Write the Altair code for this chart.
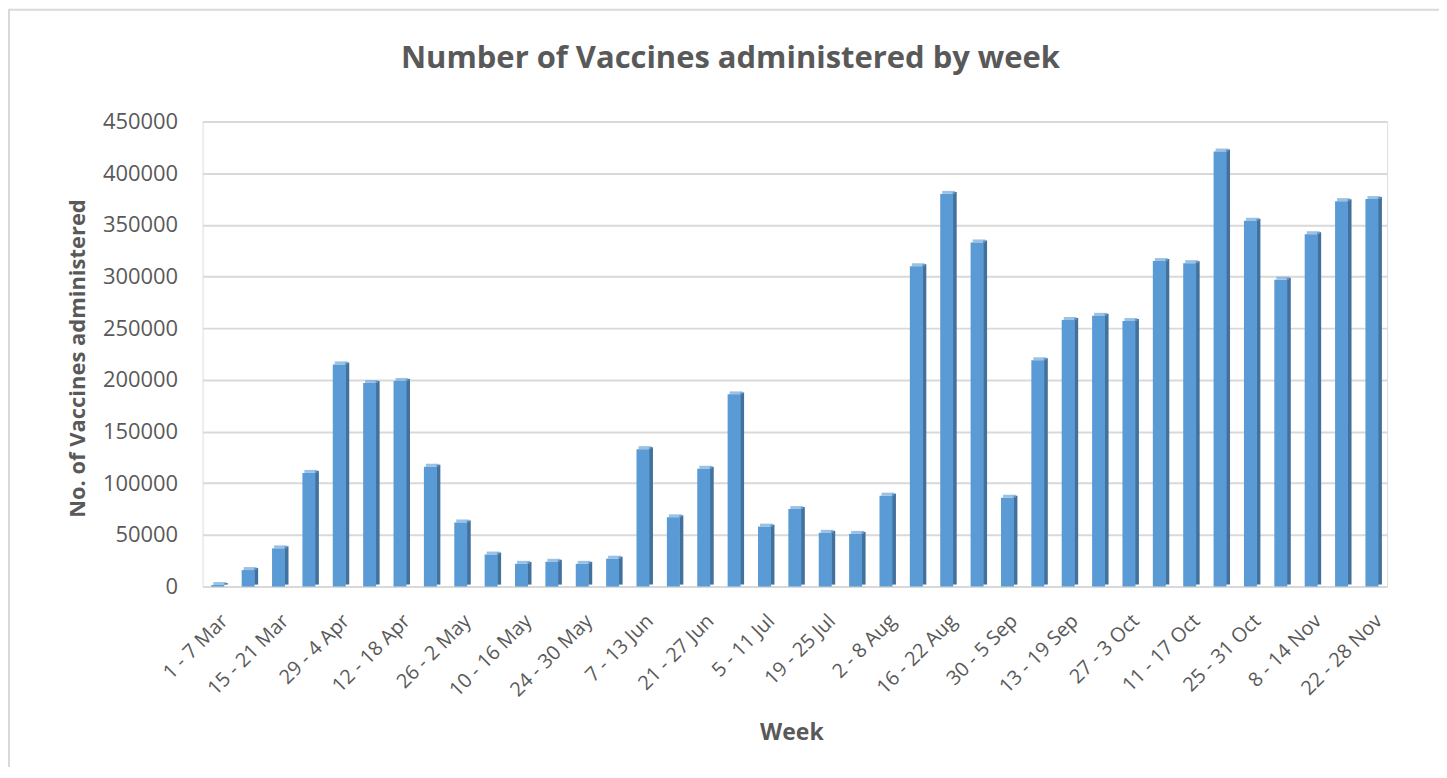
import altair as alt
import pandas as pd

chart_title = "Number of Vaccines administered by week"

weeks = ["1 - 7 Mar", "8 - 14 Mar", "15 - 21 Mar", "22 - 28 Mar", "29 - 4 Apr",
         "5 - 11 Apr", "12 - 18 Apr", "19 - 25 Apr", "26 - 2 May", "3 - 9 May",
         "10 - 16 May", "17 - 23 May", "24 - 30 May", "31 - 6 Jun", "7 - 13 Jun",
         "14 - 20 Jun", "21 - 27 Jun", "28 - 4 Jul", "5 - 11 Jul", "12 - 18 Jul",
         "19 - 25 Jul", "26 - 1 Aug", "2 - 8 Aug", "9 - 15 Aug", "16 - 22 Aug",
         "23 - 29 Aug", "30 - 5 Sep", "6 - 12 Sep", "13 - 19 Sep", "20 - 26 Sep",
         "27 - 3 Oct", "4 - 10 Oct", "11 - 17 Oct", "18 - 24 Oct", "25 - 31 Oct",
         "1 - 7 Nov", "8 - 14 Nov", "15 - 21 Nov", "22 - 28 Nov"]

vaccines = [1500, 16000, 37000, 110000, 215000,
            197000, 199000, 116000, 62000, 31000,
            22000, 24000, 22000, 27000, 133000,
            67000, 114000, 186000, 58000, 75000,
            52000, 51000, 88000, 310000, 380000,
            333000, 86000, 219000, 258000, 262000,
            257000, 315000, 313000, 421000, 354000,
            297000, 341000, 373000, 375000]

labeled_weeks = weeks[::2]
y_ticks = [0, 50000, 100000, 150000, 200000, 250000, 300000, 350000, 400000, 450000]

df = pd.DataFrame({"Week": weeks, "Vaccines": vaccines})

FONT = "Open Sans"
GREY = "#595959"

x_enc = alt.X("Week:N", sort=weeks,
              scale=alt.Scale(paddingInner=0, paddingOuter=0),
              axis=alt.Axis(values=labeled_weeks, labelAngle=-45, labelFontSize=20,
                            labelColor=GREY, labelFont=FONT, labelPadding=24,
                            ticks=False, domain=False, grid=False,
                            title="Week", titleFont=FONT, titleFontSize=23,
                            titleFontWeight="bold", titleColor=GREY,
                            titleX=590, titleY=146, titleBaseline="middle"))
y_enc = alt.Y("Vaccines:Q", scale=alt.Scale(domain=[0, 450000], nice=False),
              axis=alt.Axis(values=y_ticks, format="d", labelFontSize=22,
                            labelColor=GREY, labelFont=FONT, labelPadding=25,
                            ticks=False, domain=False, grid=True,
                            gridColor="#D9D9D9", gridWidth=2,
                            title="No. of Vaccines administered", titleFont=FONT,
                            titleFontSize=22, titleFontWeight="bold", titleColor=GREY,
                            titleX=-125, titleY=237, titleAngle=-90,
                            titleBaseline="middle", titleAlign="center"))

base = alt.Chart(df)

side = base.mark_bar(width=4, xOffset=8, yOffset=-2, color="#41719C").encode(x=x_enc, y=y_enc)
front = base.mark_bar(width=13, color="#5B9BD5").encode(x=x_enc, y=y_enc)
top = base.mark_tick(size=13, thickness=3, xOffset=2, yOffset=-1.5, color="#70A6DA").encode(x=x_enc, y=y_enc)

single = alt.Data(values=[{"t": chart_title}])

frame = alt.Chart(single).mark_rect(
    fill="transparent", stroke="#D9D9D9", strokeWidth=2
).encode(x=alt.value(-194), x2=alt.value(1300), y=alt.value(-112), y2=alt.value(800))

title_text = alt.Chart(single).mark_text(
    font=FONT, fontSize=31, fontWeight="bold", color=GREY,
    align="center", baseline="alphabetic"
).encode(x=alt.value(529), y=alt.value(-54), text="t:N")

chart = alt.layer(frame, side, front, top, title_text).properties(
    width=1187, height=466,
    autosize=alt.AutoSizeParams(type="none"),
    padding={"left": 195, "top": 113, "right": 52, "bottom": 180},
).configure_view(stroke=None).configure(background="white")

chart.save("out.html", embed_options={"renderer": "svg", "actions": False})
